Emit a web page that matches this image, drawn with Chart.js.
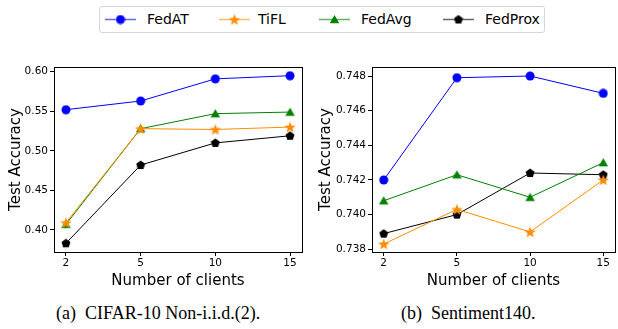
<!DOCTYPE html>
<html>
<head>
<meta charset="utf-8">
<script src="https://cdn.jsdelivr.net/npm/chart.js@4.4.0/dist/chart.umd.min.js"></script>
<style>
  html, body { margin: 0; padding: 0; background: #fff; }
  body { width: 618px; height: 329px; overflow: hidden; position: relative; font-family: "DejaVu Sans", sans-serif; }
  canvas.plot { position: absolute; top: 55px; }
  #legend { position: absolute; left: 99px; top: 6px; width: 444px; height: 25px; border: 1px solid #d6d6d6; border-radius: 3px; }
  .item { position: absolute; top: 0; height: 25px; line-height: 25px; font-size: 14px; color: #000; }
  .item canvas { position: absolute; top: 4px; left: 0; }
  .item span { position: absolute; white-space: nowrap; }
  .caption { position: absolute; top: 302px; font-family: "Liberation Serif", "DejaVu Serif", serif; font-size: 18px; line-height: 22px; color: #000; white-space: pre; }
</style>
</head>
<body>
<div id="legend"></div>
<canvas id="chartA" class="plot" width="310" height="235" style="left:0px"></canvas>
<canvas id="chartB" class="plot" width="312" height="235" style="left:310px"></canvas>
<div class="caption" style="left:56px">(a)  CIFAR-10 Non-i.i.d.(2).</div>
<div class="caption" style="left:401px">(b)  Sentiment140.</div>
<script>
// data
var clientLabels = ["2", "5", "10", "15"];
var seriesNames = ["FedAT", "TiFL", "FedAvg", "FedProx"];

var cifarFedAT   = [0.552, 0.563, 0.591, 0.595];
var cifarTiFL    = [0.409, 0.528, 0.527, 0.530];
var cifarFedAvg  = [0.407, 0.528, 0.547, 0.549];
var cifarFedProx = [0.383, 0.482, 0.510, 0.519];
var cifarTicks = [0.40, 0.45, 0.50, 0.55, 0.60];

var sentFedAT   = [0.7420, 0.7479, 0.7480, 0.7470];
var sentTiFL    = [0.7383, 0.7403, 0.7390, 0.7420];
var sentFedAvg  = [0.7408, 0.7423, 0.7410, 0.7430];
var sentFedProx = [0.7389, 0.7400, 0.7424, 0.7423];
var sentTicks = [0.738, 0.740, 0.742, 0.744, 0.746, 0.748];

var colors = ["#0000ff", "#ff8c00", "#008000", "#000000"];
var shapes = ["circle", "star", "triangle", "pentagon"];
var sizes = [10, 12, 11, 10];

function polygon(g, cx, cy, n, rOut, rIn, rot) {
    var pts = rIn ? n * 2 : n;
    for (var i = 0; i < pts; i++) {
        var r = rIn ? (i % 2 ? rIn : rOut) : rOut;
        var a = rot + i * Math.PI * 2 / pts;
        var x = cx + r * Math.cos(a), y = cy + r * Math.sin(a);
        if (i === 0) g.moveTo(x, y); else g.lineTo(x, y);
    }
    g.closePath();
}

function makeMarker(shape, color, size) {
    var c = document.createElement("canvas");
    c.width = size; c.height = size;
    var g = c.getContext("2d");
    var r = size / 2;
    g.fillStyle = color;
    g.beginPath();
    if (shape === "circle") g.arc(r, r, r - 0.5, 0, Math.PI * 2);
    else if (shape === "star") polygon(g, r, r + 0.5, 5, r, r * 0.42, -Math.PI / 2);
    else if (shape === "triangle") polygon(g, r, r + 1, 3, r, 0, -Math.PI / 2);
    else polygon(g, r, r + 0.3, 5, r - 0.3, 0, -Math.PI / 2);
    g.fill();
    return c;
}

var markers = shapes.map(function (s, i) { return makeMarker(s, colors[i], sizes[i]); });

function toPoints(vals) {
    return vals.map(function (v, i) { return { x: i, y: v }; });
}

function buildDatasets(list) {
    return list.map(function (vals, i) {
        return {
            label: seriesNames[i],
            data: toPoints(vals),
            borderColor: colors[i],
            backgroundColor: colors[i],
            borderWidth: 1,
            pointStyle: markers[i],
            pointRadius: sizes[i] / 2,
            tension: 0,
            fill: false
        };
    });
}

var framePlugin = {
    id: "frame",
    afterDraw: function (chart) {
        var a = chart.chartArea, g = chart.ctx;
        g.save();
        g.strokeStyle = "#000";
        g.lineWidth = 1;
        g.strokeRect(Math.round(a.left) + 0.5, Math.round(a.top) + 0.5, Math.round(a.right - a.left), Math.round(a.bottom - a.top));
        g.restore();
    }
};

window.createChart = function (canvasId, dataSets, yMin, yMax, yTicks, decimals, yWidth, padRight) {
    var canvas = document.getElementById(canvasId);
    var chartContext = canvas.getContext("2d");

    return new Chart(chartContext, {
        type: "line",
        data: { datasets: dataSets },
        plugins: [framePlugin],
        options: {
            responsive: false,
            animation: false,
            layout: { padding: { top: 12, right: padRight, left: 7, bottom: 0 } },
            plugins: { legend: { display: false }, tooltip: { enabled: false } },
            scales: {
                x: {
                    type: "linear",
                    min: -0.16,
                    max: 3.16,
                    afterBuildTicks: function (axis) {
                        axis.ticks = clientLabels.map(function (l, i) { return { value: i }; });
                    },
                    afterFit: function (scale) { scale.height = 38; },
                    grid: { drawOnChartArea: false, drawTicks: true, tickLength: 4, color: "#000" },
                    border: { display: true, color: "#000" },
                    ticks: {
                        font: { family: "DejaVu Sans", size: 10.5 },
                        color: "#000",
                        padding: 1,
                        maxRotation: 0,
                        callback: function (v) { return clientLabels[v]; }
                    },
                    title: {
                        display: true,
                        text: "Number of clients",
                        font: { family: "DejaVu Sans", size: 15 },
                        color: "#000",
                        padding: { top: 1, bottom: 0 }
                    }
                },
                y: {
                    min: yMin,
                    max: yMax,
                    afterBuildTicks: function (axis) {
                        axis.ticks = yTicks.map(function (v) { return { value: v }; });
                    },
                    afterFit: function (scale) { scale.width = yWidth; },
                    grid: { drawOnChartArea: false, drawTicks: true, tickLength: 4, color: "#000" },
                    border: { display: true, color: "#000" },
                    ticks: {
                        font: { family: "DejaVu Sans", size: 10.5 },
                        color: "#000",
                        padding: 2,
                        callback: function (v) { return Number(v).toFixed(decimals); }
                    },
                    title: {
                        display: true,
                        text: "Test Accuracy",
                        font: { family: "DejaVu Sans", size: 15 },
                        color: "#000",
                        padding: { top: 0, bottom: 0 }
                    }
                }
            }
        }
    });
};

createChart("chartA", buildDatasets([cifarFedAT, cifarTiFL, cifarFedAvg, cifarFedProx]),
    0.372, 0.606, cifarTicks, 2, 47, 8);
createChart("chartB", buildDatasets([sentFedAT, sentTiFL, sentFedAvg, sentFedProx]),
    0.73784, 0.74852, sentTicks, 3, 55, 0);

// legend shared by both panels (positions relative to the legend box)
var legendLineX = [5, 119, 219, 343];
var legendTextX = [47, 158, 261, 385];
var legend = document.getElementById("legend");
seriesNames.forEach(function (name, i) {
    var c = document.createElement("canvas");
    c.width = 31; c.height = 17;
    c.style.position = "absolute";
    c.style.left = legendLineX[i] + "px";
    c.style.top = "4px";
    var g = c.getContext("2d");
    g.strokeStyle = colors[i];
    g.globalAlpha = 0.6;
    g.lineWidth = 1.5;
    g.beginPath(); g.moveTo(0, 8.5); g.lineTo(31, 8.5); g.stroke();
    g.globalAlpha = 1;
    var s = sizes[i];
    g.drawImage(markers[i], 15.5 - s / 2, 8.5 - s / 2);
    legend.appendChild(c);
    var item = document.createElement("div");
    item.className = "item";
    item.style.left = legendTextX[i] + "px";
    item.textContent = name;
    legend.appendChild(item);
});
</script>
</body>
</html>
